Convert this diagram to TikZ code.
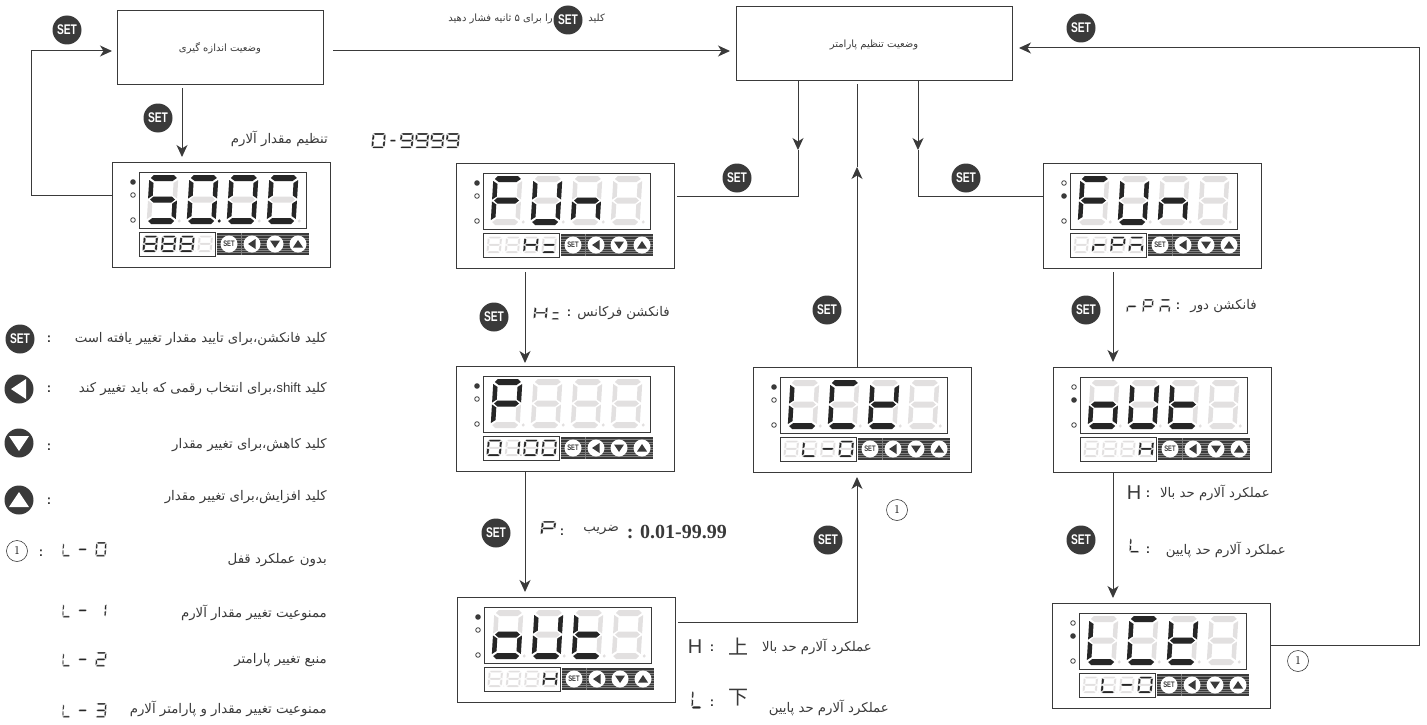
\documentclass[tikz,border=0pt]{standalone}
\usepackage{fontspec}
\usetikzlibrary{arrows.meta}
\newfontfamily\arabicfont[Script=Arabic]{DejaVu Sans}
\newfontfamily\cjkfont{Noto Sans CJK SC}
\newfontfamily\serifnum{Liberation Serif}
\newfontfamily\latinsans{Liberation Sans}
\TeXXeTstate=1

\definecolor{ink}{HTML}{3A3A3A}
\definecolor{segdim}{HTML}{E2E0E0}

\tikzset{
  statebox/.style={draw=ink, line width=1pt, inner sep=0pt, outer sep=0pt},
  panelbox/.style={draw=ink, line width=1pt, anchor=north west, minimum width=218pt, minimum height=105pt, outer sep=0pt},
  windowbox/.style={draw=ink, line width=0.8pt},
  plain/.style={draw=ink, line width=1pt},
  flow/.style={plain, -{Stealth[length=12pt,width=11pt,inset=3.5pt]}},
  setkey/.style={circle, fill=ink, text=white, minimum size=29pt, inner sep=0pt, font=\latinsans\bfseries\fontsize{14}{14}\selectfont},
  smallkey/.style={circle, fill=white, text=ink, minimum size=17pt, inner sep=0pt, font=\latinsans\bfseries\fontsize{8}{8}\selectfont},
  fatext/.style={anchor=east, inner sep=0pt, text=ink, font=\arabicfont\fontsize{13.3}{15}\selectfont},
  fatiny/.style={anchor=east, inner sep=0pt, text=ink, font=\arabicfont\fontsize{10}{12}\selectfont},
  colon/.style={inner sep=0pt, text=ink, font=\latinsans\bfseries\fontsize{13}{13}\selectfont},
  circled/.style={circle, draw=ink, line width=0.6pt, minimum size=21pt, inner sep=0pt, font=\fontsize{12}{12}\selectfont},
  segon/.style={fill=black!85},
  segoff/.style={fill=segdim},
  segthin/.style={fill=black!85, draw=white, line width=0.2pt},
}

% persian text, right to left
\newcommand{\fa}[1]{\beginR #1\endR}
\newcommand{\setlabel}{\scalebox{.73}[1]{SET}}

% segments of one digit
\def\sega{(5,0)--(25,0)--(28,3)--(24,6)--(6,6)--(2,3)--cycle}
\def\segb{(29.5,5)--(25,8)--(25,20.5)--(29.5,23.5)--cycle}
\def\segc{(29.5,25.5)--(25,28.5)--(25,41)--(29.5,44)--cycle}
\def\segd{(6,43)--(24,43)--(28,46)--(25,49)--(5,49)--(2,46)--cycle}
\def\sege{(0.5,25.5)--(5,28.5)--(5,41)--(0.5,44)--cycle}
\def\segf{(0.5,5)--(5,8)--(5,20.5)--(0.5,23.5)--cycle}
\def\segg{(2.5,24.5)--(6,21.5)--(24,21.5)--(27.5,24.5)--(24,27.5)--(6,27.5)--cycle}
\def\segp{(33,46) circle (1.7)}
\def\segx{(0,0)}

\newcommand{\segdigit}[1]{%
  \begin{scope}[shift={(3,0)},xslant=.06]
    \foreach \s in {a,b,c,d,e,f,g,p} {\fill[segoff] \csname seg\s\endcsname;}
    \foreach \s in #1 {\fill[segon] \csname seg\s\endcsname;}
  \end{scope}}

% loose glyph, only the lit segments
\newcommand{\segglyph}[5]{%
  \begin{scope}[shift={(#1,#2)},xscale=#3,yscale=#4,shift={(3,0)},xslant=.06]
    \foreach \s in {#5} {\filldraw[segthin] \csname seg\s\endcsname;}
  \end{scope}}

% triangle of a key, angle 0 points left
\newcommand{\keytri}[5]{%
  \begin{scope}[shift={(#1,#2)},rotate=#3,scale=#4]
    \fill[#5] (-8,0)--(7,-10)--(7,10)--cycle;
  \end{scope}}

% name, x, y, lit led, big digits, small digits
\newcommand{\panel}[6]{%
  \node[panelbox] (#1) at (#2,#3) {};
  \begin{scope}[shift={(#2,#3)}]
    \draw[windowbox] (27,10) rectangle (194,66);
    \draw[windowbox] (27,70) rectangle (103,94);
    \foreach \r/\ly in {1/20,2/33,3/58} {
      \ifnum\r=#4
        \fill[ink] (21,\ly) circle (2.8);
      \else
        \draw[ink, line width=0.8pt] (21,\ly) circle (2.3);
      \fi
    }
    \foreach \d [count=\i from 0] in {#5} {
      \begin{scope}[shift={(34+40*\i,13)}]
        \segdigit{\d}
      \end{scope}
    }
    \foreach \d [count=\i from 0] in {#6} {
      \begin{scope}[shift={(30+18.3*\i,73.5)},xscale=.5,yscale=.34,segon/.style={segthin},segoff/.style={fill=segdim,draw=white,line width=0.2pt}]
        \segdigit{\d}
      \end{scope}
    }
    \fill[ink] (105,71) rectangle (197,93);
    \foreach \k in {1,...,8} {\draw[white!35!ink, line width=0.3pt] (105,71+2.45*\k) -- (197,71+2.45*\k);}
    \draw[white!35!ink, line width=0.3pt] (129,71) -- (129,93);
    \node[smallkey] (#1set) at (117,82) {\setlabel};
    \foreach \bx/\ang [count=\i] in {140/0,163/90,186/-90} {
      \node[smallkey] (#1key\i) at (\bx,82) {};
      \keytri{\bx}{82}{\ang}{.5}{ink}
    }
  \end{scope}}

\begin{document}
\begin{tikzpicture}[x=1pt,y=-1pt]
  \useasboundingbox (0,0) rectangle (1427,725);

  %Define nodes
  \node[statebox, minimum width=206pt, minimum height=73pt] (meas) at (220,47.5) {};
  \node[fatiny, anchor=center] (meastxt) at (220,48) {\fa{وضعیت اندازه گیری}};
  \node[statebox, minimum width=276pt, minimum height=74pt] (parb) at (874,44) {};
  \node[fatiny, anchor=center] (parbtxt) at (874,45) {\fa{وضعیت تنظیم پارامتر}};

  \panel{seta}{112}{162}{1}{{a,c,d,f,g},{a,b,c,d,e,f,p},{a,b,c,d,e,f},{a,b,c,d,e,f}}{{a,b,c,d,e,f,g},{a,b,c,d,e,f,g},{a,b,c,d,e,f,g},{x}}
  \panel{fnh}{456}{163}{1}{{a,e,f,g},{b,c,d,e,f},{c,e,g},{x}}{{x},{x},{b,c,e,f,g},{d,g}}
  \panel{coef}{456}{366}{1}{{a,b,e,f,g},{x},{x},{x}}{{a,b,c,d,e,f},{b,c,p},{a,b,c,d,e,f},{a,b,c,d,e,f}}
  \panel{outl}{457}{597}{1}{{c,d,e,g},{b,c,d,e,f},{d,e,f,g},{x}}{{x},{x},{x},{b,c,e,f,g}}
  \panel{lckl}{753}{367}{1}{{d,e,f},{a,d,e,f},{b,d,e,f,g},{x}}{{x},{d,e,f},{g},{a,b,c,d,e,f}}
  \panel{fnr}{1043}{163}{2}{{a,e,f,g},{b,c,d,e,f},{c,e,g},{x}}{{x},{e,g},{a,b,e,f,g},{a,c,e,g}}
  \panel{outr}{1053}{367}{2}{{c,d,e,g},{b,c,d,e,f},{d,e,f,g},{x}}{{x},{x},{x},{b,c,e,f,g}}
  \panel{lckr}{1052}{603}{2}{{d,e,f},{a,d,e,f},{b,d,e,f,g},{x}}{{x},{d,e,f},{g},{a,b,c,d,e,f}}

  \foreach \x/\y [count=\i] in {67/30,158/118,737/178,966/178,1081/28,494/317,827/310,1086/310,496/533,828/540,1081/540,568/20,20/339} {
    \node[setkey] (set\i) at (\x,\y) {\setlabel};
  }

  \coordinate (fha) at (798,150);
  \coordinate (fhb) at (798,196);
  \coordinate (fra) at (918,150);
  \coordinate (frb) at (918,196);
  \coordinate (upa) at (857,167);
  \coordinate (upb) at (857,622);
  \coordinate (lpa) at (31,195);
  \coordinate (lpb) at (31,51);
  \coordinate (rta) at (1419,645);
  \coordinate (rtb) at (1419,48);

  % Connect the nodes
  \draw[flow, shorten >=5pt] (seta.west |- lpa) -- (lpa) -- (lpb) -- (meas.west |- lpb);
  \draw[flow, shorten <=4pt, shorten >=5pt] (meas.south -| 182,0) -- (seta.north -| 182,0);
  \draw[flow, shorten <=10pt, shorten >=6pt] (meas.east |- lpb) -- (parb.west |- lpb);
  \draw[flow] (parb.south -| fha) -- (fha);
  \draw[plain, shorten >=3pt] (fha) -- (fhb) -- (fnh.east |- fhb);
  \draw[flow] (parb.south -| fra) -- (fra);
  \draw[plain] (fra) -- (frb) -- (fnr.west |- frb);
  \draw[flow] (lckl.north -| upa) -- (upa);
  \draw[plain, shorten >=3pt] (upa) -- (parb.south -| upa);
  \draw[flow, shorten <=3pt, shorten >=5pt] (outl.east |- upb) -- (upb) -- (lckl.south -| upb);
  \draw[flow, shorten <=1pt, shorten >=7pt] (lckr.east |- rta) -- (rta) -- (rtb) -- (parb.east |- rtb);
  \draw[flow, shorten <=4pt, shorten >=3pt] (fnh.south -| 525,0) -- (coef.north -| 525,0);
  \draw[flow, shorten <=1pt, shorten >=5pt] (coef.south -| 525,0) -- (outl.north -| 525,0);
  \draw[flow, shorten <=4pt, shorten >=5pt] (fnr.south -| 1113,0) -- (outr.north -| 1113,0);
  \draw[flow, shorten <=1pt, shorten >=5pt] (outr.south -| 1113,0) -- (lckr.north -| 1113,0);

  % texts on the flow
  \node[fatiny] (toptxta) at (605,18) {\fa{کلید}};
  \node[fatiny] (toptxtb) at (553,19) {\fa{را برای ۵ ثانیه فشار دهید}};
  \node[fatext] (alarmtxt) at (328,139) {\fa{تنظیم مقدار آلارم}};
  \node[fatext] (freqtxt) at (670,313) {\fa{فانکشن فرکانس}};
  \node[fatext] (coeftxt) at (619,530) {\fa{ضریب}};
  \node[inner sep=0pt, anchor=east, text=ink, font=\serifnum\bfseries\fontsize{20}{20}\selectfont] (rangetxt) at (727,532) {: 0.01-99.99};
  \node[fatext] (hightxta) at (872,647) {\fa{عملکرد آلارم حد بالا}};
  \node[fatext] (lowtxta) at (889,708) {\fa{عملکرد آلارم حد پایین}};
  \node[fatext] (rpmtxt) at (1257,306) {\fa{فانکشن دور}};
  \node[fatext] (hightxtb) at (1270,493) {\fa{عملکرد آلارم حد بالا}};
  \node[fatext] (lowtxtb) at (1286,550) {\fa{عملکرد آلارم حد پایین}};

  \node[inner sep=0pt, text=ink, font=\latinsans\fontsize{20}{20}\selectfont] (hia) at (695,647) {H};
  \node[inner sep=0pt, text=ink, font=\latinsans\fontsize{20}{20}\selectfont] (hib) at (1134,493) {H};
  \node[inner sep=0pt, text=ink, font=\cjkfont\fontsize{20}{20}\selectfont] (upsign) at (738,647) {上};
  \node[inner sep=0pt, text=ink, font=\cjkfont\fontsize{20}{20}\selectfont] (downsign) at (738,698) {下};
  \foreach \x/\y [count=\i] in {569/313,562/532,712/648,712/703,1178/306,1148/494,1148/550,49/339,49/389,49/447,49/501,41/553} {
    \node[colon] (col\i) at (\x,\y) {:};
  }
  \node[circled] (onea) at (897,510) {1};
  \node[circled] (oneb) at (1298,661) {1};
  \node[circled] (onec) at (17,551) {1};

  % panel letters in the labels
  \segglyph{533}{306}{.46}{.28}{b,c,e,f,g}
  \segglyph{551}{306}{.28}{.28}{d,g}
  \segglyph{540}{521}{.5}{.3}{a,b,e,f,g}
  \segglyph{691}{689}{.36}{.4}{d,e,f}
  \segglyph{1126}{299}{.36}{.3}{e,g}
  \segglyph{1142}{299}{.36}{.3}{a,b,e,f,g}
  \segglyph{1159}{299}{.36}{.3}{a,c,e,g}
  \segglyph{1129}{537}{.36}{.32}{d,e,f}
  \segglyph{371}{133}{.46}{.31}{a,b,c,d,e,f}
  \segglyph{389}{133}{.24}{.31}{g}
  \foreach \x in {399,414.3,429.6,445} {
    \segglyph{\x}{133}{.46}{.31}{a,b,c,d,f,g}
  }

  % legend
  \foreach \y/\ang [count=\i] in {389/0,443/90,500/-90} {
    \node[setkey] (leg\i) at (19,\y) {};
    \keytri{19}{\y}{\ang}{1}{white}
  }
  \node[fatext] (legtxta) at (327,339) {\fa{کلید فانکشن،برای تایید مقدار تغییر یافته است}};
  \node[fatext] (legtxtb) at (327,389) {\fa{کلید \beginL{\latinsans shift}\endL{}،برای انتخاب رقمی که باید تغییر کند}};
  \node[fatext] (legtxtc) at (327,445) {\fa{کلید کاهش،برای تغییر مقدار}};
  \node[fatext] (legtxtd) at (327,497) {\fa{کلید افزایش،برای تغییر مقدار}};
  \node[fatext] (legtxte) at (327,560) {\fa{بدون عملکرد قفل}};
  \node[fatext] (legtxtf) at (327,613) {\fa{ممنوعیت تغییر مقدار آلارم}};
  \node[fatext] (legtxtg) at (327,660) {\fa{منبع تغییر پارامتر}};
  \node[fatext] (legtxth) at (327,709) {\fa{ممنوعیت تغییر مقدار و پارامتر آلارم}};

  \foreach \y/\segs in {542/{a,b,c,d,e,f},603/{b,c},652/{a,b,d,e,g},703/{a,b,c,d,g}} {
    \segglyph{62}{\y}{.28}{.3}{d,e,f}
    \segglyph{77}{\y}{.34}{.3}{g}
    \begin{scope}[shift={(95,\y)},xscale=.36,yscale=.3,shift={(3,0)},xslant=.06]
      \foreach \s in \segs {\filldraw[segthin] \csname seg\s\endcsname;}
    \end{scope}
  }
\end{tikzpicture}
\end{document}
